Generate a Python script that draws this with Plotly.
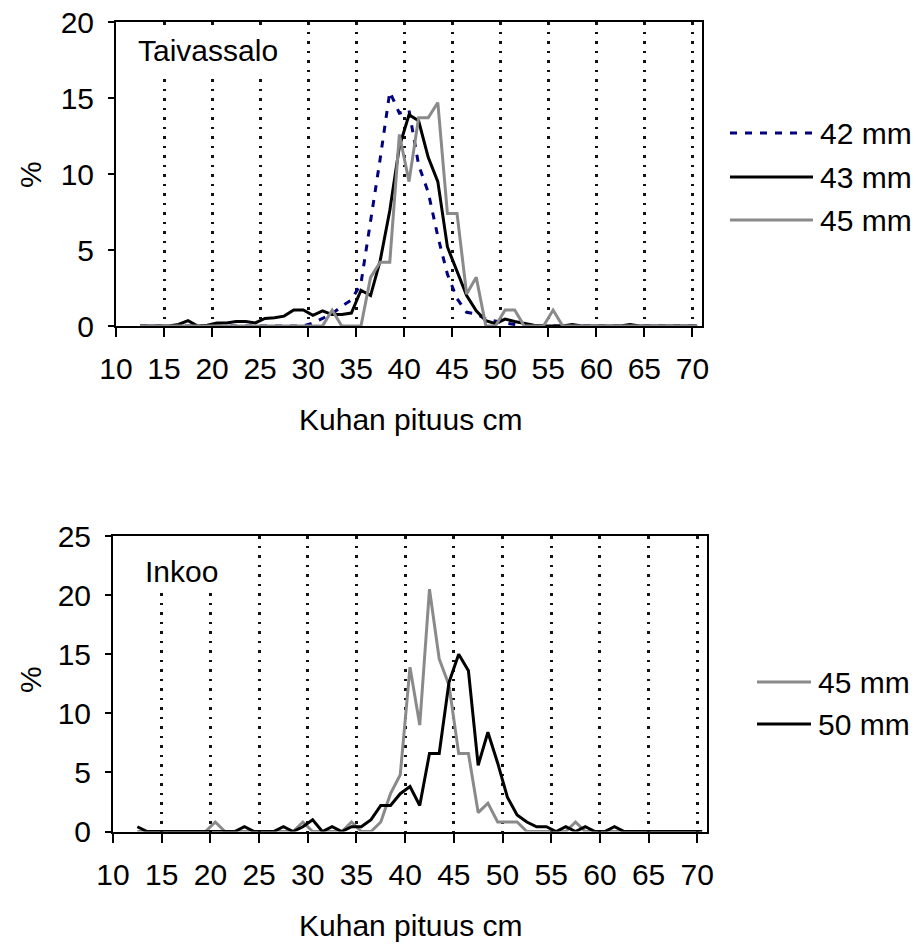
import plotly.graph_objects as go

# Length classes (cm); each point sits at the middle of its 1-cm class
pituus = list(range(12, 71))

# Taivassalo, share of catch (%) by mesh size
taiv_42 = [0, 0, 0, 0, 0, 0, 0, 0, 0, 0,
           0, 0, 0, 0, 0, 0, 0, 0, 0.2, 0.5,
           0.8, 1.3, 1.7, 2.8, 6.8, 11.0, 15.4, 14.0, 14.2, 10.6,
           8.8, 5.9, 3.4, 1.8, 0.9, 0.8, 0.45, 0.3, 0.2, 0.1,
           0.05, 0, 0, 0, 0, 0, 0, 0, 0, 0,
           0, 0, 0, 0, 0, 0, 0, 0, 0]
taiv_43 = [0, 0, 0, 0, 0.1, 0.35, 0, 0.05, 0.2, 0.2,
           0.3, 0.3, 0.2, 0.5, 0.55, 0.65, 1.05, 1.05, 0.7, 1.0,
           0.75, 0.75, 0.85, 2.35, 2.0, 4.3, 7.6, 11.8, 13.9, 13.5,
           11.1, 9.5, 5.2, 3.6, 2.0, 1.0, 0.35, 0.15, 0.45, 0.3,
           0.15, 0.05, 0, 0, 0, 0.1, 0, 0, 0, 0,
           0, 0.1, 0, 0, 0, 0, 0, 0, 0]
taiv_45 = [0, 0, 0, 0, 0, 0, 0, 0, 0, 0,
           0, 0, 0, 0, 0, 0, 0, 0, 0, 0,
           1.05, 0, 0, 0, 3.2, 4.2, 4.2, 12.6, 9.5, 13.7,
           13.7, 14.7, 7.4, 7.4, 2.1, 3.2, 0, 0, 1.05, 1.05,
           0, 0, 0, 1.05, 0, 0, 0, 0, 0, 0,
           0, 0, 0, 0, 0, 0, 0, 0, 0]

# Inkoo, share of catch (%) by mesh size
inkoo_45 = [0, 0, 0, 0, 0, 0, 0, 0, 0.8, 0,
            0, 0, 0, 0, 0, 0, 0, 0.8, 0, 0,
            0, 0, 0.8, 0, 0, 0.8, 3.2, 4.8, 13.9, 9.0,
            20.5, 14.6, 12.4, 6.6, 6.6, 1.6, 2.4, 0.8, 0.8, 0.8,
            0, 0, 0, 0, 0, 0.8, 0, 0, 0, 0,
            0, 0, 0, 0, 0, 0, 0, 0, 0]
inkoo_50 = [0.4, 0, 0, 0, 0, 0, 0, 0, 0, 0,
            0, 0.4, 0, 0, 0, 0.4, 0, 0.4, 1.0, 0,
            0.4, 0, 0.4, 0.4, 1.0, 2.2, 2.2, 3.2, 3.8, 2.2,
            6.6, 6.6, 12.6, 15.0, 13.6, 5.6, 8.4, 5.8, 2.9, 1.4,
            0.8, 0.4, 0.4, 0, 0.4, 0, 0.4, 0, 0, 0.4,
            0, 0, 0, 0, 0, 0, 0, 0, 0]

x_mid = [p + 0.5 for p in pituus]

W, H = 919, 944
FONT = "Liberation Sans, Arial, Helvetica, sans-serif"
FS = 30
NAVY, BLACK, GREY = "#000080", "#000000", "#8a8a8a"


def px(v):
    return v / W


def py(v):
    return 1 - v / H


fig = go.Figure()

series = [
    (taiv_42, "42 mm", NAVY, "7px,8px", "x", "y"),
    (taiv_43, "43 mm", BLACK, "solid", "x", "y"),
    (taiv_45, "45 mm", GREY, "solid", "x", "y"),
    (inkoo_45, "45 mm", GREY, "solid", "x2", "y2"),
    (inkoo_50, "50 mm", BLACK, "solid", "x2", "y2"),
]
for vals, name, col, dash, xa, ya in series:
    fig.add_trace(go.Scatter(
        x=x_mid, y=vals, name=name, mode="lines",
        line=dict(color=col, width=3, dash=dash),
        xaxis=xa, yaxis=ya, showlegend=False,
    ))

xcommon = dict(
    range=[10, 71], tickvals=list(range(10, 71, 5)),
    ticks="outside", ticklen=9, tickwidth=2, tickcolor=BLACK,
    showline=True, linewidth=2, linecolor=BLACK, mirror=True,
    showgrid=True, gridcolor="#111111", gridwidth=2.5, griddash="2.5px,7px",
    zeroline=False, tickfont=dict(family=FONT, size=FS, color=BLACK),
    ticklabelstandoff=6, automargin=False,
)
ycommon = dict(
    ticks="outside", ticklen=6, tickwidth=2, tickcolor=BLACK,
    showline=True, linewidth=2, linecolor=BLACK, mirror=True,
    showgrid=False, zeroline=False,
    tickfont=dict(family=FONT, size=FS, color=BLACK),
    ticklabelstandoff=8, automargin=False,
)

fig.update_layout(
    width=W, height=H,
    margin=dict(l=0, r=0, t=0, b=0, autoexpand=False),
    paper_bgcolor="white", plot_bgcolor="white",
    font=dict(family=FONT, size=FS, color=BLACK),
    xaxis=dict(domain=[px(116), px(702)], anchor="y", **xcommon),
    yaxis=dict(domain=[py(326), py(22)], anchor="x", range=[0, 20],
               tickvals=[0, 5, 10, 15, 20], **ycommon),
    xaxis2=dict(domain=[px(113), px(707)], anchor="y2", **xcommon),
    yaxis2=dict(domain=[py(831.5), py(536)], anchor="x2", range=[0, 25],
                tickvals=[0, 5, 10, 15, 20, 25], **ycommon),
)

# White label boxes that hide the gridlines behind the site names
fig.add_shape(type="rect", xref="x", yref="y", x0=10.3, x1=28.0, y0=16.4, y1=19.75,
              fillcolor="white", line=dict(width=0), layer="between")
fig.add_shape(type="rect", xref="x2", yref="y2", x0=10.3, x1=23.0, y0=20.3, y1=25,
              fillcolor="white", line=dict(width=0), layer="between")

centre = dict(xanchor="center", yanchor="middle", showarrow=False)
annotations = [
    dict(text="Taivassalo", x=19.6, y=18.1, xref="x", yref="y", **centre),
    dict(text="Inkoo", x=17.0, y=22.0, xref="x2", yref="y2", **centre),
    dict(text="Kuhan pituus cm", x=px(410), y=py(420), xref="paper", yref="paper",
         **centre),
    dict(text="Kuhan pituus cm", x=px(410), y=py(925), xref="paper", yref="paper",
         **centre),
    dict(text="%", x=px(30), y=py(175), xref="paper", yref="paper",
         textangle=-90, **centre),
    dict(text="%", x=px(30), y=py(680), xref="paper", yref="paper",
         textangle=-90, **centre),
]

# Legends beside each panel
legend_rows = [
    ("42 mm", NAVY, "7px,8px", 730, 813, 133),
    ("43 mm", BLACK, "solid", 730, 813, 177),
    ("45 mm", GREY, "solid", 730, 813, 220),
    ("45 mm", GREY, "solid", 757, 811, 682),
    ("50 mm", BLACK, "solid", 757, 811, 724),
]
for label, col, dash, xa, xb, yy in legend_rows:
    fig.add_shape(type="line", xref="paper", yref="paper",
                  x0=px(xa), x1=px(xb), y0=py(yy), y1=py(yy),
                  line=dict(color=col, width=3, dash=dash))
    annotations.append(dict(text=label, x=px(xb + 5), y=py(yy), xref="paper",
                            yref="paper", xanchor="left", yanchor="middle",
                            showarrow=False))

for a in annotations:
    a.setdefault("font", dict(family=FONT, size=FS, color=BLACK))
fig.update_layout(annotations=annotations)

fig.write_html("out.html")
